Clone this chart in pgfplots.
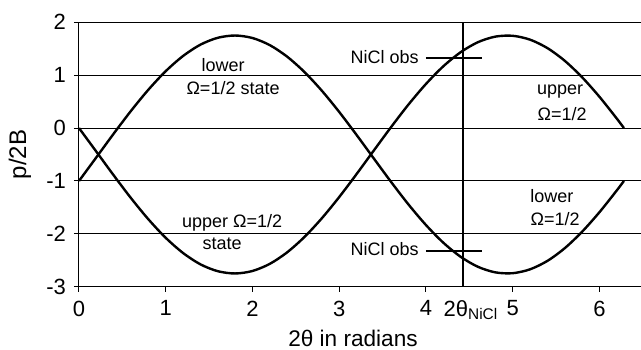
\documentclass[border=0pt]{standalone}
\usepackage{pgfplots}
\usepackage{pgfplotstable}
\pgfplotsset{compat=1.18}
\usepackage{fontspec}
\setmainfont{Liberation Sans}
\pgfplotstableread{
x y
0 -1.000
0.2 -0.554
0.4 -0.106
0.6 0.326
0.8 0.725
1.0 1.076
1.2 1.363
1.4 1.577
1.6 1.707
1.8 1.750
2.0 1.703
2.2 1.568
2.4 1.350
2.6 1.059
2.8 0.706
3.0 0.305
3.2 -0.129
3.4 -0.577
3.6 -1.022
3.8 -1.447
4.0 -1.833
4.2 -2.167
4.4 -2.434
4.6 -2.624
4.8 -2.729
5.0 -2.745
5.2 -2.672
5.4 -2.513
5.6 -2.273
5.8 -1.962
6.0 -1.593
6.2 -1.181
6.283 -1.000
}\lowerstate
\pgfplotstableread{
x y
0 0.000
0.2 -0.446
0.4 -0.894
0.6 -1.326
0.8 -1.725
1.0 -2.076
1.2 -2.363
1.4 -2.577
1.6 -2.707
1.8 -2.750
2.0 -2.703
2.2 -2.568
2.4 -2.350
2.6 -2.059
2.8 -1.706
3.0 -1.305
3.2 -0.871
3.4 -0.423
3.6 0.022
3.8 0.447
4.0 0.833
4.2 1.167
4.4 1.434
4.6 1.624
4.8 1.729
5.0 1.745
5.2 1.672
5.4 1.513
5.6 1.273
5.8 0.962
6.0 0.593
6.2 0.181
6.283 0.000
}\upperstate
\begin{document}
\begin{tikzpicture}
\begin{axis}[
  scale only axis,
  width=281pt, height=132.2pt,
  xmin=0, xmax=6.48, ymin=-3, ymax=2,
  xtick={0,1,2,3,4,5,6}, ytick={-3,-2,-1,0,1,2},
  axis x line*=bottom, axis y line*=left,
  axis line style={-, black, line width=0.5pt},
  tick align=outside, major tick length=2.5pt,
  tick style={black, line width=0.5pt},
  ymajorgrids, grid style={black, line width=0.5pt},
  /pgf/number format/assume math mode=true,
  tick label style={font=\fontsize{11}{13}\selectfont},
  xticklabel style={yshift=-1pt},
  yticklabel style={xshift=-0.5pt},
  xlabel={2θ in radians},
  ylabel={p/2B},
  xlabel style={font=\fontsize{11.3}{13.5}\selectfont, at={(rel axis cs:0.4875,0)}, anchor=center, yshift=-25.7pt},
  ylabel style={font=\fontsize{12}{14}\selectfont, at={(rel axis cs:0,0.5)}, anchor=center, yshift=29.5pt},
  clip=false,
]
\addplot[black, line width=1.2pt, smooth] table {\lowerstate};
\addplot[black, line width=1.2pt, smooth] table {\upperstate};
\addplot[black, line width=1pt] coordinates {(4.43,-3) (4.43,2)};
\addplot[black, line width=1pt] coordinates {(4.0,1.316) (4.65,1.316)};
\addplot[black, line width=1pt] coordinates {(4.0,-2.325) (4.65,-2.325)};
\begin{scope}[every node/.style={font=\fontsize{9}{11}\selectfont, inner sep=0pt}]
\node at (axis cs:1.661,1.197) {lower};
\node at (axis cs:1.776,0.762) {Ω=1/2 state};
\node[anchor=east] at (axis cs:3.92,1.348) {NiCl obs};
\node at (axis cs:5.548,0.686) {upper};
\node at (axis cs:5.571,0.270) {Ω=1/2};
\node at (axis cs:1.765,-1.785) {upper Ω=1/2};
\node at (axis cs:1.649,-2.193) {state};
\node[anchor=east] at (axis cs:3.92,-2.287) {NiCl obs};
\node at (axis cs:5.452,-1.293) {lower};
\node at (axis cs:5.490,-1.720) {Ω=1/2};
\end{scope}
\node[font=\fontsize{11}{13}\selectfont, inner sep=0pt] at ([yshift=-11.7pt]axis cs:4.52,-3) {2θ\textsubscript{NiCl}};
\coordinate (ll) at (rel axis cs:0,0);
\coordinate (ur) at (rel axis cs:1,1);
\end{axis}
\pgfresetboundingbox
\path[use as bounding box] ([shift={(-39.5pt,-31.65pt)}]ll) rectangle ([shift={(0pt,11.15pt)}]ur);
\end{tikzpicture}
\end{document}
